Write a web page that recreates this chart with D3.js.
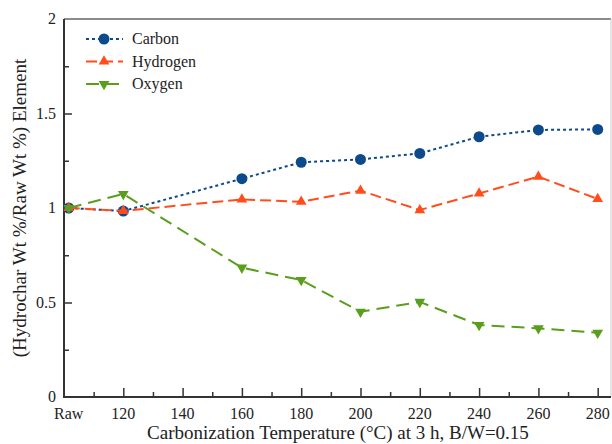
<!DOCTYPE html>
<html>
<head>
<meta charset="utf-8">
<script src="https://cdn.jsdelivr.net/npm/d3@7"></script>
<style>
body { margin: 0; background: #fff; }
</style>
</head>
<body>
<div id="chart"></div>
<script>
// data
let temps = [101.6, 120, 160, 180, 200, 220, 240, 260, 280];
let carbon = [1.0, 0.984, 1.155, 1.242, 1.257, 1.289, 1.377, 1.413, 1.416];
let hydrogen = [1.0, 0.985, 1.045, 1.033, 1.092, 0.989, 1.077, 1.166, 1.048];
let oxygen = [1.0, 1.074, 0.684, 0.619, 0.451, 0.503, 0.381, 0.363, 0.340];
let xTicks = [100, 120, 140, 160, 180, 200, 220, 240, 260, 280];
let xTickLabels = ["Raw", "120", "140", "160", "180", "200", "220", "240", "260", "280"];
let yTicks = [0, 0.5, 1, 1.5, 2];

let width = 612, height = 444;
let mLeft = 64, mRight = 611, mTop = 19, mBottom = 397;
let serif = "'Liberation Serif', 'Times New Roman', Times, serif";

let svg = d3.select("#chart").append("svg")
  .attr("width", width)
  .attr("height", height)
  .attr("font-family", serif);

// x: 100 sits on the y axis, 280 at ~598
let xScale = d3.scaleLinear().domain([100, 280]).range([mLeft, 597.7]);
let yScale = d3.scaleLinear().domain([0, 2]).range([mBottom, mTop]);

// frame: top and right edges
svg.append("line").attr("x1", mLeft).attr("x2", mRight).attr("y1", mTop).attr("y2", mTop)
  .style("stroke", "#666").style("stroke-width", 1.5);
svg.append("line").attr("x1", mRight).attr("x2", mRight).attr("y1", mTop).attr("y2", mBottom)
  .style("stroke", "#ccc").style("stroke-width", 1);

// minor ticks
let xMinor = d3.range(110, 281, 20);
let yMinor = [0.25, 0.75, 1.25, 1.75];

let x_ax = svg.append("g").attr("transform", `translate(0,${mBottom})`);
x_ax.call(d3.axisTop(xScale).tickValues(xTicks).tickSize(9).tickFormat(""));
x_ax.append("g").call(d3.axisTop(xScale).tickValues(xMinor).tickSize(5).tickFormat(""));
x_ax.selectAll(".tick").filter(d => d === 100).remove();

let y_ax = svg.append("g").attr("transform", `translate(${mLeft},0)`);
y_ax.call(d3.axisRight(yScale).tickValues(yTicks).tickSize(8).tickFormat(""));
y_ax.append("g").call(d3.axisRight(yScale).tickValues(yMinor).tickSize(5).tickFormat(""));
y_ax.selectAll(".tick").filter(d => d === 0 || d === 2).remove();

svg.selectAll(".domain").remove();
svg.selectAll(".tick line").style("stroke", "#333").style("stroke-width", 1.5);

// clean axis lines
svg.append("line").attr("x1", mLeft).attr("x2", mRight).attr("y1", mBottom).attr("y2", mBottom)
  .style("stroke", "#333").style("stroke-width", 2);
svg.append("line").attr("x1", mLeft).attr("x2", mLeft).attr("y1", mTop).attr("y2", mBottom + 1)
  .style("stroke", "#333").style("stroke-width", 2);

// tick labels
svg.append("g").selectAll("text").data(xTicks).enter().append("text")
  .attr("x", (d, i) => i === 0 ? xScale(101.6) : xScale(d))
  .attr("y", 419)
  .attr("text-anchor", "middle")
  .attr("font-family", serif)
  .style("font-size", "16px")
  .style("fill", "#222")
  .text((d, i) => xTickLabels[i]);

svg.append("g").selectAll("text").data(yTicks).enter().append("text")
  .attr("x", 56)
  .attr("y", d => yScale(d) + 5)
  .attr("text-anchor", "end")
  .attr("font-family", serif)
  .style("font-size", "16px")
  .style("fill", "#222")
  .text(d => d);

// axis titles
svg.append("text")
  .attr("x", 338).attr("y", 439)
  .attr("text-anchor", "middle")
  .attr("font-family", serif)
  .style("font-size", "19px")
  .style("fill", "#222")
  .text("Carbonization Temperature (°C) at 3 h, B/W=0.15");

svg.append("text")
  .attr("transform", `translate(26,${(mTop + mBottom) / 2}) rotate(-90)`)
  .attr("text-anchor", "middle")
  .attr("font-family", serif)
  .style("font-size", "19px")
  .style("fill", "#222")
  .text("(Hydrochar Wt %/Raw Wt %) Element");

// series
let series = [
  { name: "Carbon", values: carbon, color: "#0d4a8c", dash: "3,3", symbol: d3.symbolCircle, size: 95, rot: 0 },
  { name: "Hydrogen", values: hydrogen, color: "#ff4e1c", dash: "11,5", symbol: d3.symbolTriangle, size: 50, rot: 0 },
  { name: "Oxygen", values: oxygen, color: "#5a9e1e", dash: "13,7", symbol: d3.symbolTriangle, size: 50, rot: 180 }
];

let line = d3.line().x(d => xScale(d[0])).y(d => yScale(d[1]));

let plot = svg.append("g");
series.forEach(function(s) {
  let pts = temps.map((t, i) => [t, s.values[i]]);
  plot.append("path")
    .attr("d", line(pts))
    .style("fill", "none")
    .style("stroke", s.color)
    .style("stroke-width", 2)
    .style("stroke-dasharray", s.dash);
  plot.selectAll(null).data(pts).enter().append("path")
    .attr("d", d3.symbol().type(s.symbol).size(s.size))
    .attr("transform", d => `translate(${xScale(d[0])},${yScale(d[1])}) rotate(${s.rot})`)
    .style("fill", s.color);
});

// legend
let legend = svg.append("g");
series.forEach(function(s, i) {
  let y = 39 + i * 22.5;
  legend.append("line")
    .attr("x1", 86).attr("x2", 123).attr("y1", y).attr("y2", y)
    .style("stroke", s.color).style("stroke-width", 2)
    .style("stroke-dasharray", s.dash);
  legend.append("path")
    .attr("d", d3.symbol().type(s.symbol).size(s.size))
    .attr("transform", `translate(104,${y}) rotate(${s.rot})`)
    .style("fill", s.color);
  legend.append("text")
    .attr("x", 132).attr("y", y + 5)
    .attr("font-family", serif)
    .style("font-size", "16px")
    .style("fill", "#222")
    .text(s.name);
});
</script>
</body>
</html>
